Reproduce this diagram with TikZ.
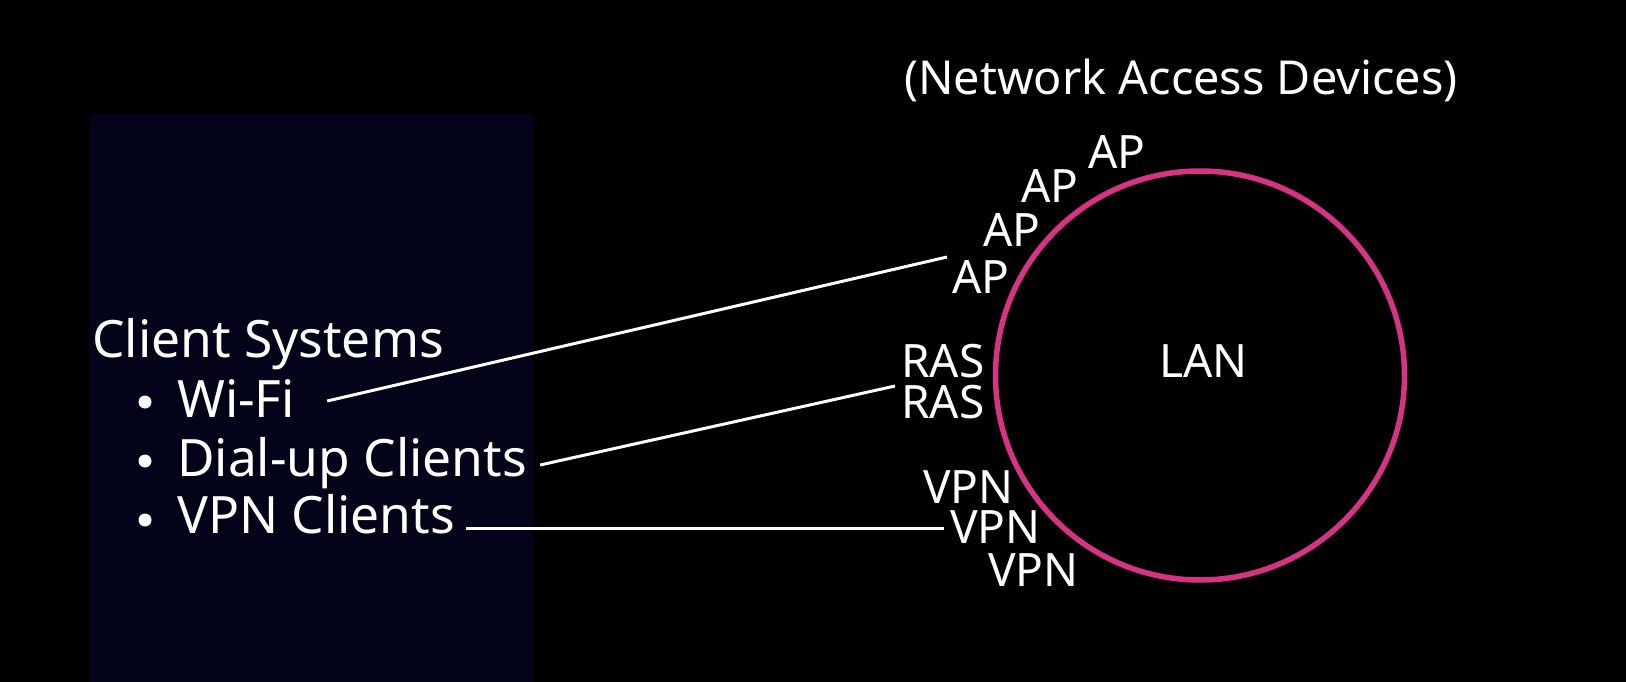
\documentclass[tikz,border=0pt]{standalone}
\usepackage{fontspec}
\setmainfont{Noto Sans}
\definecolor{panel}{RGB}{3,3,26}
\definecolor{lanring}{RGB}{214,51,132}
\tikzset{
  lbl/.style={text=white, inner sep=0pt, anchor=base west, font=\fontsize{46}{55}\selectfont},
  item/.style={text=white, inner sep=0pt, anchor=base west, font=\fontsize{51.5}{62}\selectfont},
  dot/.style={circle, fill=white, minimum size=13pt, inner sep=0pt},
  link/.style={draw=white, line width=3pt}
}
\begin{document}
\begin{tikzpicture}[x=1pt,y=-1pt]
\useasboundingbox (0,0) rectangle (1626,682);
\fill[black] (0,0) rectangle (1626,682);
\fill[panel] (89.5,114) rectangle (533,682);
% LAN
\node[circle, draw=lanring, line width=5.5pt, minimum size=409pt, inner sep=0pt] (lanc) at (1200,375.5) {};
\node[lbl] (lan) at (1159,377) {LAN};
% title
\node[lbl, font=\fontsize{46.8}{56}\selectfont] (title) at (904,95) {(Network Access Devices)};
% devices
\node[lbl] (ap1) at (1088,168) {AP};
\node[lbl] (ap2) at (1021,203) {AP};
\node[lbl] (ap3) at (983,246) {AP};
\node[lbl] (ap4) at (952,293) {AP};
\node[lbl] (ras1) at (901,377) {RAS};
\node[lbl] (ras2) at (901,418) {RAS};
\node[lbl] (vpn1) at (923,503) {VPN};
\node[lbl] (vpn2) at (950,543) {VPN};
\node[lbl] (vpn3) at (988,586) {VPN};
% clients
\node[item] (cs) at (92,357) {Client Systems};
\node[dot] (b1) at (145,402) {};
\node[dot] (b2) at (145,461) {};
\node[dot] (b3) at (145,520) {};
\node[item] (wifi) at (177,417) {Wi-Fi};
\node[item] (dial) at (177,476) {Dial-up Clients};
\node[item] (vpnc) at (177,533) {VPN Clients};
% connectors
\draw[link] ([shift={(32,-16)}]wifi.base east) -- ([shift={(-5,-36)}]ap4.base west);
\draw[link] ([shift={(13,-11)}]dial.base east) -- ([shift={(-6,-32)}]ras2.base west);
\draw[link] ([shift={(11,-5)}]vpnc.base east) -- ([shift={(-6,-15)}]vpn2.base west);
\end{tikzpicture}
\end{document}
